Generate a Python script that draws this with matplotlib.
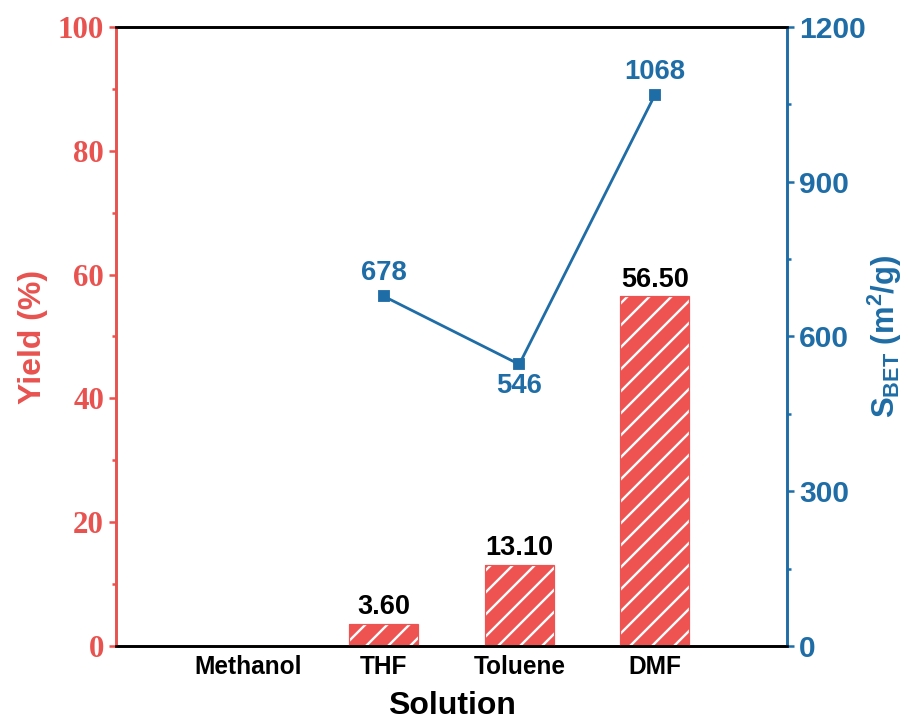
import matplotlib
matplotlib.use("Agg")
import matplotlib.pyplot as plt
import numpy as np

categories = ["Methanol", "THF", "Toluene", "DMF"]
yield_vals = [0.0, 3.60, 13.10, 56.50]
yield_labels = ["", "3.60", "13.10", "56.50"]
bet_cats = [1, 2, 3]
bet_vals = [678, 546, 1068]
bet_labels = ["678", "546", "1068"]
bet_label_side = ["above", "below", "above"]

RED = "#E8524F"
REDBAR = "#EE5352"
BLUE = "#1F6DA6"

DPI = 132
PX = 72.0 / DPI  # points per pixel

plt.rcParams["font.family"] = ["Liberation Sans", "DejaVu Sans"]
plt.rcParams["font.weight"] = "bold"
plt.rcParams["mathtext.fontset"] = "custom"
plt.rcParams["mathtext.rm"] = "Liberation Sans:bold"
plt.rcParams["mathtext.bf"] = "Liberation Sans:bold"
plt.rcParams["mathtext.it"] = "Liberation Sans:bold"
plt.rcParams["hatch.linewidth"] = 2.4 * PX

fig = plt.figure(figsize=(908 / DPI, 720 / DPI), dpi=DPI)
ax = fig.add_axes([0.1278, 0.1028, 0.7389, 0.8597])
ax2 = ax.twinx()

x = np.arange(len(categories))
ax.bar(x, yield_vals, width=0.51, color=REDBAR, edgecolor="white", hatch="//", linewidth=0, zorder=2)
ax.bar(x, yield_vals, width=0.51, fill=False, edgecolor=REDBAR, linewidth=1.2 * PX, zorder=3)
for xi, v, lab in zip(x, yield_vals, yield_labels):
    if lab:
        ax.annotate(lab, (xi, v), xytext=(0, 2), textcoords="offset points",
                    ha="center", va="bottom", fontsize=27 * PX, fontweight="bold", color="black")

ax.set_xlim(-0.975, 3.975)
ax.set_ylim(0, 100)
ax.set_xticks(x)
ax.set_xticklabels(categories, fontsize=24.5 * PX, fontweight="bold")
ax.tick_params(axis="x", length=0, pad=9 * PX)
ax.set_yticks(np.arange(0, 101, 20))
ax.set_yticks(np.arange(10, 100, 20), minor=True)
ax.tick_params(axis="y", which="major", direction="out", length=7 * PX, width=2.5 * PX,
               color=RED, labelcolor=RED, pad=5 * PX)
ax.tick_params(axis="y", which="minor", direction="out", length=4 * PX, width=2.5 * PX, color=RED)
for t in ax.get_yticklabels():
    t.set_fontfamily("Liberation Serif")
    t.set_fontweight("bold")
    t.set_fontsize(31 * PX)
ax.set_xlabel("Solution", fontsize=32 * PX, fontweight="bold", labelpad=12 * PX)
ax.set_ylabel("Yield (%)", fontsize=32 * PX, fontweight="bold", color=RED)
ax.yaxis.set_label_coords(-0.101, 0.5)

ax2.plot(bet_cats, bet_vals, color=BLUE, lw=2.8 * PX, marker="s", markersize=10 * PX, zorder=4)
for xi, v, lab, side in zip(bet_cats, bet_vals, bet_labels, bet_label_side):
    if side == "above":
        ax2.annotate(lab, (xi, v), xytext=(0, 10 * PX), textcoords="offset points",
                     ha="center", va="bottom", fontsize=27.5 * PX, fontweight="bold", color=BLUE)
    else:
        ax2.annotate(lab, (xi, v), xytext=(0, -9 * PX), textcoords="offset points",
                     ha="center", va="top", fontsize=27.5 * PX, fontweight="bold", color=BLUE)
ax2.set_ylim(0, 1200)
ax2.set_yticks(np.arange(0, 1201, 300))
ax2.set_yticks(np.arange(150, 1200, 300), minor=True)
ax2.tick_params(axis="y", which="major", direction="out", length=7 * PX, width=2.5 * PX,
                color=BLUE, labelcolor=BLUE, labelsize=30 * PX, pad=5 * PX)
ax2.tick_params(axis="y", which="minor", direction="out", length=4 * PX, width=2.5 * PX, color=BLUE)
ax2.set_ylabel(r"S$_{\mathrm{BET}}$ (m$^{\mathrm{2}}$/g)", fontsize=31 * PX, fontweight="bold", color=BLUE)
ax2.yaxis.set_label_coords(1.1177, 0.5)

for a in (ax, ax2):
    for s in a.spines.values():
        s.set_linewidth(2.6 * PX)
ax2.spines["left"].set_color(RED)
ax2.spines["right"].set_color(BLUE)
ax2.spines["top"].set_color("black")
ax2.spines["bottom"].set_color("black")
ax.spines["left"].set_color(RED)
ax.spines["right"].set_color(BLUE)

fig.savefig("out.png", dpi=DPI, facecolor="white")
